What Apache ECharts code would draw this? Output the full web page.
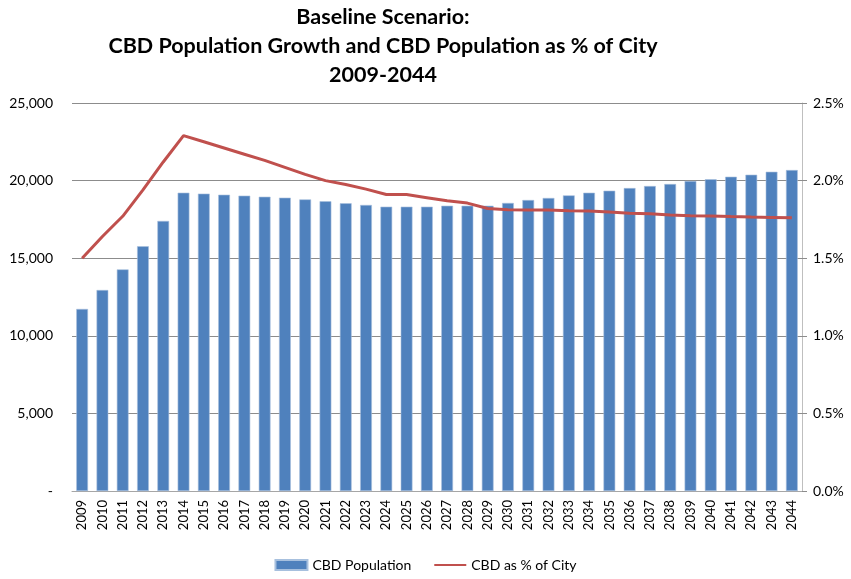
<!DOCTYPE html>
<html>
<head>
<meta charset="utf-8">
<script src="https://cdn.jsdelivr.net/npm/echarts@6/dist/echarts.min.js"></script>
<style>
  html, body { margin: 0; padding: 0; background: #fff; }
  #chart { width: 851px; height: 579px; }
</style>
</head>
<body>
<div id="chart"></div>
<script>
// Years shown along the category axis
const years = [
  '2009','2010','2011','2012','2013','2014','2015','2016','2017','2018',
  '2019','2020','2021','2022','2023','2024','2025','2026','2027','2028',
  '2029','2030','2031','2032','2033','2034','2035','2036','2037','2038',
  '2039','2040','2041','2042','2043','2044'
];

// CBD resident population (left axis)
const cbdPopulation = [
  11730, 12950, 14280, 15770, 17400, 19220, 19160, 19090, 19030, 18960,
  18900, 18790, 18670, 18540, 18430, 18320, 18320, 18320, 18380, 18380,
  18380, 18560, 18750, 18880, 19050, 19220, 19350, 19520, 19650, 19780,
  19970, 20090, 20250, 20380, 20570, 20680
];

// CBD population as a share of the whole city, in percent (right axis)
const cbdShareOfCity = [
  1.50, 1.64, 1.77, 1.94, 2.12, 2.29, 2.25, 2.21, 2.17, 2.13,
  2.085, 2.04, 2.00, 1.975, 1.945, 1.91, 1.91, 1.89, 1.87, 1.855,
  1.82, 1.812, 1.81, 1.81, 1.806, 1.804, 1.798, 1.79, 1.786, 1.778,
  1.774, 1.772, 1.768, 1.765, 1.763, 1.76
];

// Tick values for the two value axes
const populationTicks = { min: 0, max: 25000, step: 5000 };
const shareTicks = { min: 0, max: 2.5, step: 0.5 };

const FONT = 'Lato, "Liberation Sans", sans-serif';

const chart = echarts.init(document.getElementById('chart'), null, { renderer: 'canvas' });

chart.setOption({
  animation: false,
  backgroundColor: '#ffffff',
  textStyle: { fontFamily: FONT },
  title: {
    text: 'Baseline Scenario:\nCBD Population Growth and CBD Population as % of City\n2009-2044',
    left: 378,
    top: -2,
    textAlign: 'center',
    textStyle: {
      fontFamily: FONT,
      fontWeight: 'bold',
      fontSize: 21.5,
      lineHeight: 29,
      color: '#000'
    }
  },
  legend: {
    bottom: 2,
    left: 'center',
    itemGap: 22,
    itemWidth: 32,
    itemHeight: 10,
    textStyle: { fontFamily: FONT, fontSize: 14, color: '#000', padding: [0, 0, 0, 0] },
    data: [
      { name: 'CBD Population', icon: 'rect' },
      { name: 'CBD as % of City', itemStyle: { color: 'rgba(0,0,0,0)', borderWidth: 0 } }
    ]
  },
  grid: { left: 72, right: 49, top: 103, bottom: 88, containLabel: false },
  xAxis: {
    type: 'category',
    data: years,
    boundaryGap: true,
    axisLine: { show: true, lineStyle: { color: '#a6a6a6', width: 1 } },
    axisTick: { show: false },
    axisLabel: {
      rotate: 90,
      interval: 0,
      margin: 9,
      fontFamily: FONT,
      fontSize: 13,
      color: '#000'
    }
  },
  yAxis: [
    {
      type: 'value',
      min: populationTicks.min,
      max: populationTicks.max,
      interval: populationTicks.step,
      axisLine: { show: false },
      axisTick: { show: false },
      splitLine: { show: true, lineStyle: { color: '#8c8c8c', width: 1 } },
      axisLabel: {
        margin: 19,
        fontFamily: FONT,
        fontSize: 14,
        color: '#000',
        formatter: v => v === 0 ? '-' : v.toLocaleString('en-US')
      }
    },
    {
      type: 'value',
      position: 'right',
      min: shareTicks.min,
      max: shareTicks.max,
      interval: shareTicks.step,
      axisLine: { show: true, lineStyle: { color: '#bfbfbf', width: 1 } },
      axisTick: { show: true, length: 5, lineStyle: { color: '#8c8c8c' } },
      splitLine: { show: false },
      axisLabel: {
        margin: 11,
        fontFamily: FONT,
        fontSize: 14,
        color: '#000',
        formatter: v => v.toFixed(1) + '%'
      }
    }
  ],
  series: [
    {
      name: 'CBD Population',
      type: 'bar',
      yAxisIndex: 0,
      data: cbdPopulation,
      barCategoryGap: '42%',
      itemStyle: { color: '#4f81bd', borderColor: '#a7c0de', borderWidth: 0.6 }
    },
    {
      name: 'CBD as % of City',
      type: 'line',
      yAxisIndex: 1,
      data: cbdShareOfCity,
      symbol: 'none',
      lineStyle: { color: '#c0504d', width: 3 },
      itemStyle: { color: '#c0504d' }
    }
  ]
});
</script>
</body>
</html>
